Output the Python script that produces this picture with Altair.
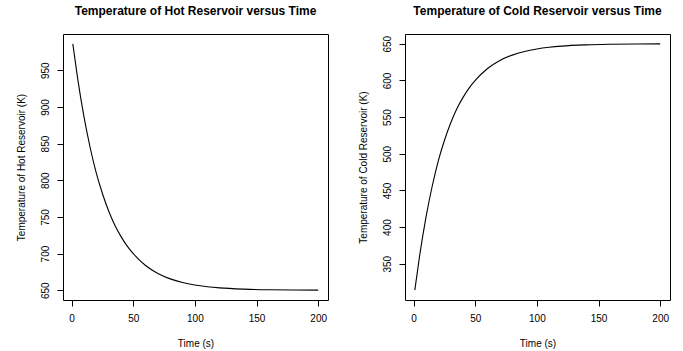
import altair as alt
import pandas as pd

# values
time_s = [1, 5, 10, 15, 20, 25, 30, 35, 40, 45, 50, 60, 70, 80, 90, 100, 110, 120, 140, 160, 180, 200]
hot_K = [986, 938, 887, 845, 810, 782, 758.5, 739, 723.5, 710.5, 700, 683.7, 672.8, 665.5, 660.5, 657.1, 654.8, 653.2, 651.5, 650.7, 650.3, 650.15]
cold_K = [314, 362, 413, 455, 490, 518, 541.5, 561, 576.5, 589.5, 600, 616.3, 627.2, 634.5, 639.5, 642.9, 645.2, 646.8, 648.5, 649.3, 649.7, 649.85]

x_ticks = [0, 50, 100, 150, 200]
hot_ticks = [650, 700, 750, 800, 850, 900, 950]
cold_ticks = [350, 400, 450, 500, 550, 600, 650]

FONT = "Liberation Sans"


def r_domain(vals):
    lo, hi = min(vals), max(vals)
    s = hi - lo
    return [lo - 0.04 * s, hi + 0.04 * s]


def panel(values, title, ytitle, yticks):
    df = pd.DataFrame({"t": time_s, "T": values})
    return alt.Chart(
        df,
        title=alt.TitleParams(title, fontSize=12, fontWeight="bold", font=FONT,
                              anchor="middle", frame="group", offset=16, color="black"),
    ).mark_line(color="black", strokeWidth=1.1, interpolate="monotone").encode(
        x=alt.X("t:Q",
                scale=alt.Scale(domain=r_domain(time_s), nice=False, zero=False),
                axis=alt.Axis(values=x_ticks, title="Time (s)", labelPadding=7,
                              titlePadding=15, format="d")),
        y=alt.Y("T:Q",
                scale=alt.Scale(domain=r_domain(values), nice=False, zero=False),
                axis=alt.Axis(values=yticks, title=ytitle, labelAngle=-90,
                              labelAlign="center", labelBaseline="bottom",
                              labelPadding=7, titlePadding=14, format="d")),
    ).properties(width=265, height=266)


left = panel(hot_K, "Temperature of Hot Reservoir versus Time",
             "Temperature of Hot Reservoir (K)", hot_ticks)
right = panel(cold_K, "Temperature of Cold Reservoir versus Time",
              "Temperature of Cold Reservoir (K)", cold_ticks)

chart = alt.hconcat(left, right, spacing=28).properties(
    padding={"left": 15, "top": 4, "right": 0, "bottom": 0},
    background="white",
).configure(font=FONT).configure_view(
    stroke="black", strokeWidth=1
).configure_axis(
    grid=False, domain=False, ticks=True, tickColor="black", tickWidth=1, tickSize=6,
    labelFont=FONT, labelFontSize=10, labelColor="black",
    titleFont=FONT, titleFontSize=10, titleFontWeight="normal", titleColor="black",
    labelOverlap=False, labelFlush=False,
)

chart.save("out.html", embed_options={"renderer": "svg", "actions": False})
